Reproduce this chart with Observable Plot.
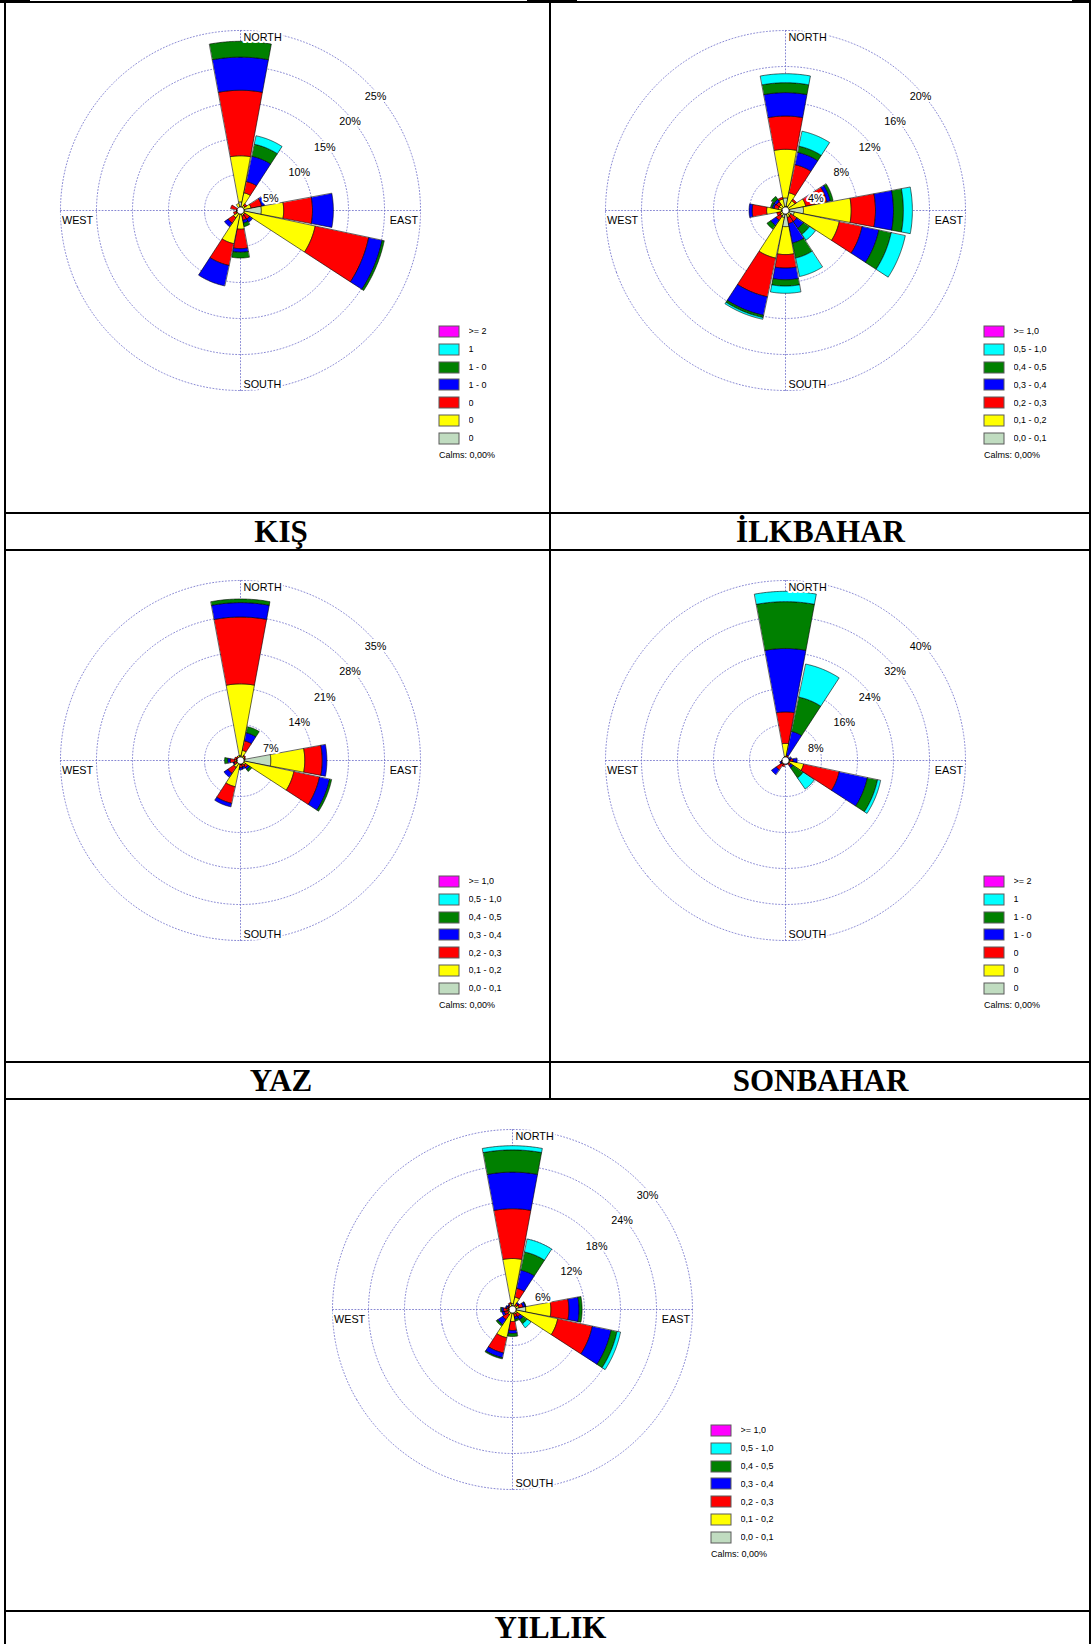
<!DOCTYPE html>
<html>
<head>
<meta charset="utf-8">
<script src="https://cdn.jsdelivr.net/npm/d3@7"></script>
<script src="https://cdn.jsdelivr.net/npm/@observablehq/plot@0.6"></script>
<style>
  body { margin: 0; background: #fff; }
  #page { position: relative; width: 1091px; height: 1644px; overflow: hidden; background: #fff; }
  .hl { position: absolute; height: 2px; background: #000; }
  .vl { position: absolute; width: 2px; background: #000; }
  .cap { position: absolute; height: 33px; line-height: 33px; text-align: center;
         font: bold 31px "Liberation Serif", "Times New Roman", serif; color: #000; }
  .calms { position: absolute; font: 9px "Liberation Sans", Arial, sans-serif; color: #000; white-space: nowrap; }
  .wr-swatches { font: 9px "Liberation Sans", Arial, sans-serif !important; margin: 0 !important; color: #000 !important; }
  .wr-swatch { height: 17.8px !important; padding-bottom: 0 !important; }
  .wr-swatch > svg { margin-right: 9.5px !important; }
  .wr-swatch > svg rect { stroke: #5a5a5a; stroke-width: 1px; }
</style>
</head>
<body>
<div id="page"></div>
<script>
// Compass sectors, clockwise from north
const directions = ["N","NNE","NE","ENE","E","ESE","SE","SSE","S","SSW","SW","WSW","W","WNW","NW","NNW"];

// Speed classes, lowest first
const binColors = ["#c0dcc0", "#ffff00", "#ff0000", "#0000ff", "#008000", "#00ffff", "#ff00ff"];
const speedLabels = ["0,0 - 0,1", "0,1 - 0,2", "0,2 - 0,3", "0,3 - 0,4", "0,4 - 0,5", "0,5 - 1,0", ">= 1,0"];
const roundedLabels = ["0", "0", "0", "1 - 0", "1 - 0", "1", ">= 2"];

// Frequency (%) per sector, one column per speed class (lowest first)
const kisFreq = [
  [1.2, 6.4, 9.1, 4.6, 2.2, 0, 0],
  [0.3, 2.2, 1.6, 3.6, 1.7, 1.2, 0],
  [0.2, 0.6, 0.3, 0, 0, 0, 0],
  [0.3, 1.2, 1.5, 0.4, 0, 0, 0],
  [2.9, 3.1, 4.0, 2.9, 0, 0, 0],
  [0.3, 10.3, 7.6, 1.9, 0.3, 0, 0],
  [0.2, 0.5, 0.8, 0.5, 0, 0, 0],
  [0.2, 0.6, 0.6, 0.4, 0.5, 0, 0],
  [0.3, 2.3, 2.7, 0.5, 0.8, 0, 0],
  [0.3, 4.4, 3.1, 2.9, 0, 0, 0],
  [0.2, 1.0, 0.9, 0.6, 0, 0, 0],
  [0.1, 0.5, 0.4, 0, 0, 0, 0],
  [0.1, 0.3, 0.1, 0, 0, 0, 0],
  [0.1, 0.4, 0.9, 0, 0, 0, 0],
  [0.1, 0.3, 0, 0, 0, 0, 0],
  [0.3, 0.7, 0, 0, 0, 0, 0]
];
const ilkbaharFreq = [
  [1.4, 5.4, 3.7, 2.6, 1.1, 1.0, 0],
  [0.5, 1.5, 3.2, 1.4, 0.7, 1.7, 0],
  [0.3, 1.0, 0.2, 0, 0, 0, 0],
  [0.3, 2.0, 2.4, 0.4, 0.3, 0, 0],
  [2.0, 5.3, 2.7, 2.0, 1.1, 1.0, 0],
  [1.0, 5.1, 2.6, 1.9, 1.4, 1.6, 0],
  [0.3, 0.4, 0.8, 0.9, 0.8, 0.8, 0],
  [0.3, 0.5, 0.7, 2.2, 1.7, 2.1, 0],
  [1.8, 3.1, 1.5, 1.3, 0.7, 0.8, 0],
  [0.8, 4.6, 4.4, 2.1, 0.25, 0.2, 0],
  [0.2, 0.5, 0.6, 0.7, 0.5, 0, 0],
  [0.1, 0.5, 0.4, 0, 0, 0, 0],
  [0.3, 1.8, 1.6, 0.35, 0, 0, 0],
  [0.1, 0.7, 0.5, 0.2, 0.2, 0, 0],
  [0.2, 0.6, 0.4, 0.3, 0.4, 0, 0],
  [0.3, 1.0, 0.2, 0, 0, 0, 0]
];
const yazFreq = [
  [1.0, 13.9, 13.0, 2.8, 0.7, 0, 0],
  [0.3, 1.7, 1.9, 1.6, 1.2, 0, 0],
  [0.3, 0.7, 0.2, 0, 0, 0, 0],
  [0.3, 0.5, 0.2, 0, 0, 0, 0],
  [5.9, 6.6, 3.4, 0.9, 0, 0, 0],
  [0.5, 10.1, 5.1, 2.0, 0.4, 0, 0],
  [0.3, 0.8, 0.6, 0.4, 0.5, 0, 0],
  [0.2, 0.6, 0.5, 0.4, 0, 0, 0],
  [0.2, 0.6, 0.6, 0.4, 0, 0, 0],
  [0.3, 4.9, 3.3, 0.7, 0, 0, 0],
  [0.3, 1.3, 1.4, 0.9, 0, 0, 0],
  [0.2, 0.6, 0.5, 0.2, 0, 0, 0],
  [0.3, 0.8, 0.9, 0.5, 0.6, 0, 0],
  [0.2, 0.6, 0.4, 0, 0, 0, 0],
  [0.2, 0.5, 0.3, 0, 0, 0, 0],
  [0.2, 0.8, 0, 0, 0, 0, 0]
];
const sonbaharFreq = [
  [0.5, 3.3, 7.0, 14.1, 10.4, 2.3, 0],
  [0.2, 0.4, 0.6, 5.4, 7.8, 7.5, 0],
  [0.1, 0.3, 0.2, 0.3, 0, 0, 0],
  [0.1, 0.4, 0.3, 0.6, 0, 0, 0],
  [0.2, 0.8, 0.7, 0.9, 0, 0, 0],
  [0.5, 3.6, 8.1, 6.4, 2.3, 0.7, 0],
  [0.3, 0.6, 0.5, 0.6, 2.7, 3.0, 0],
  [0.1, 0.3, 0.3, 0.2, 0, 0, 0],
  [0.1, 0.3, 0.2, 0, 0, 0, 0],
  [0.1, 0.5, 0.8, 0, 0, 0, 0],
  [0.3, 0.7, 1.5, 1.3, 0, 0, 0],
  [0.1, 0.3, 0.6, 0.3, 0, 0, 0],
  [0.1, 0.2, 0.3, 0, 0, 0, 0],
  [0.1, 0.2, 0.1, 0, 0, 0, 0],
  [0.1, 0.2, 0, 0, 0, 0, 0],
  [0.2, 0.6, 0, 0, 0, 0, 0]
];
const yillikFreq = [
  [1.0, 7.5, 8.3, 6.1, 3.7, 0.7, 0],
  [0.4, 1.7, 1.5, 3.1, 3.1, 2.2, 0],
  [0.2, 0.6, 0.4, 0.2, 0, 0, 0],
  [0.3, 0.8, 0.7, 0.4, 0.1, 0, 0],
  [2.2, 4.2, 3.0, 1.7, 0.5, 0, 0],
  [0.5, 7.2, 5.9, 3.2, 1.0, 0.6, 0],
  [0.3, 0.6, 0.6, 0.6, 0.8, 0.8, 0],
  [0.2, 0.6, 0.5, 0.4, 0.3, 0, 0],
  [0.5, 1.5, 1.5, 0.5, 0.5, 0, 0],
  [0.4, 4.4, 2.6, 0.8, 0.2, 0, 0],
  [0.3, 0.7, 1.0, 1.0, 0.3, 0, 0],
  [0.2, 0.6, 0.6, 0.4, 0, 0, 0],
  [0.3, 0.6, 0.6, 0.3, 0.2, 0, 0],
  [0.2, 0.5, 0.3, 0.2, 0, 0, 0],
  [0.2, 0.4, 0.2, 0.2, 0, 0, 0],
  [0.3, 0.7, 0.2, 0, 0, 0, 0]
];

// Ring values (%) of each rose
const kisRings = [5, 10, 15, 20, 25];
const ilkbaharRings = [4, 8, 12, 16, 20];
const yazRings = [7, 14, 21, 28, 35];
const sonbaharRings = [8, 16, 24, 32, 40];
const yillikRings = [6, 12, 18, 24, 30];

const titles = ["KIŞ", "İLKBAHAR", "YAZ", "SONBAHAR", "YILLIK"];
const calmsText = "Calms: 0,00%";

// Layout of the five panels on the page
const panels = [
  {title: titles[0], freq: kisFreq, rings: kisRings, labels: roundedLabels, cx: 240, cy: 210},
  {title: titles[1], freq: ilkbaharFreq, rings: ilkbaharRings, labels: speedLabels, cx: 785, cy: 210},
  {title: titles[2], freq: yazFreq, rings: yazRings, labels: speedLabels, cx: 240, cy: 760},
  {title: titles[3], freq: sonbaharFreq, rings: sonbaharRings, labels: roundedLabels, cx: 785, cy: 760},
  {title: titles[4], freq: yillikFreq, rings: yillikRings, labels: speedLabels, cx: 512, cy: 1309}
];

const page = document.getElementById("page");

function addBox(cls, left, top, w, h) {
  const d = document.createElement("div");
  d.className = cls;
  d.style.left = left + "px"; d.style.top = top + "px";
  if (w != null) d.style.width = w + "px";
  if (h != null) d.style.height = h + "px";
  page.appendChild(d);
  return d;
}

// Table rules
addBox("hl", 0, 1, 1091, 2);
addBox("hl", 0, 0, 30, 3);
addBox("hl", 527, 0, 50, 3);
addBox("hl", 1072, 0, 19, 3);
addBox("vl", 4, 1, null, 1643);
addBox("vl", 1089, 1, null, 1643);
addBox("vl", 549, 1, null, 1098);
for (const y of [512, 549, 1061, 1098, 1610]) addBox("hl", 4, y, 1087, 2);

// Captions
const capCells = [[10, 514, 542], [552, 514, 537], [10, 1063, 542], [552, 1063, 537], [10, 1610, 1081]];
capCells.forEach(([x, y, w], i) => {
  const c = addBox("cap", x, y, w, null);
  c.textContent = titles[i];
});

// bearing (deg clockwise from north) -> longitude on the pole-centred projection
const lon = (b) => 180 - b;
const HALF = 10.5; // half angular width of a petal

function wedge(bearing, r0, r1) {
  const outer = [], inner = [];
  for (let a = -HALF; a <= HALF + 1e-9; a += 0.5) {
    outer.push([lon(bearing + a), 90 - r1]);
    inner.push([lon(bearing + a), 90 - r0]);
  }
  const ring = outer.concat(inner.reverse());
  ring.push(ring[0]);
  let g = {type: "Polygon", coordinates: [ring]};
  if (d3.geoArea(g) > 2 * Math.PI) g = {type: "Polygon", coordinates: [ring.slice().reverse()]};
  return g;
}

function rosePlot(freq, rings) {
  const maxRing = rings[rings.length - 1];
  const base = maxRing * 3.5 / 180; // calm circle at the centre
  const petals = [];
  freq.forEach((row, i) => {
    const bearing = i * 22.5;
    let cum = 0;
    row.forEach((w, bin) => {
      if (!(w > 0)) return;
      const r0 = Math.max(cum, base), r1 = cum + w;
      cum = r1;
      if (r1 <= r0) return;
      petals.push({type: "Feature", properties: {dir: directions[i], bin}, geometry: wedge(bearing, r0, r1)});
    });
  });
  const edge = 90 - maxRing;
  const gridStyle = {stroke: "#6a6ac8", strokeWidth: 0.8, strokeDasharray: "1,2.2"};
  const labelStyle = {fill: "#000", stroke: "white", strokeWidth: 4, paintOrder: "stroke", fontSize: 10.8};
  return Plot.plot({
    width: 400, height: 400, margin: 0,
    projection: {type: "azimuthal-equidistant", rotate: [0, -90], inset: 20,
                 domain: d3.geoCircle().center([0, 90]).radius(maxRing)()},
    color: {type: "identity"},
    style: {background: "transparent", overflow: "visible", fontFamily: "Liberation Sans, Arial, sans-serif"},
    marks: [
      Plot.geo(rings.map((v) => d3.geoCircle().center([0, 90]).radius(v).precision(0.5)()), {...gridStyle, fill: "none"}),
      Plot.geo([0, 90, 180, 270].map((b) => ({type: "LineString", coordinates: [[lon(b), edge], [lon(b), 89.9999]]})), gridStyle),
      Plot.geo(petals, {fill: (d) => binColors[d.properties.bin], stroke: "#000", strokeWidth: 0.6}),
      Plot.geo(d3.geoCircle().center([0, 90]).radius(base).precision(1)(), {fill: "white", stroke: "#000", strokeWidth: 0.8}),
      Plot.text(rings, {x: () => lon(45), y: (v) => 90 - v, text: (v) => v + "%", textAnchor: "start", dx: -3, dy: 13, ...labelStyle}),
      Plot.text(["NORTH"], {x: () => lon(0), y: () => edge, text: (d) => d, textAnchor: "start", dx: 3, dy: 7, ...labelStyle}),
      Plot.text(["SOUTH"], {x: () => lon(180), y: () => edge, text: (d) => d, textAnchor: "start", dx: 3, dy: -6, ...labelStyle}),
      Plot.text(["EAST"], {x: () => lon(90), y: () => edge, text: (d) => d, textAnchor: "end", dx: -2.5, dy: 10, ...labelStyle}),
      Plot.text(["WEST"], {x: () => lon(270), y: () => edge, text: (d) => d, textAnchor: "start", dx: 1.5, dy: 10, ...labelStyle})
    ]
  });
}

panels.forEach((p) => {
  const svg = rosePlot(p.freq, p.rings);
  const holder = addBox("", p.cx - 200, p.cy - 200, 400, 400);
  holder.style.position = "absolute";
  holder.appendChild(svg);

  // legend, highest speed class first
  const keys = d3.range(binColors.length).reverse();
  const legend = Plot.legend({
    color: {type: "ordinal", domain: keys, range: keys.map((k) => binColors[k])},
    legend: "swatches", columns: 1, swatchWidth: 20, swatchHeight: 11,
    tickFormat: (k) => p.labels[k], className: "wr"
  });
  const lg = addBox("", p.cx + 199, p.cy + 112.6, 110, null);
  lg.style.position = "absolute";
  lg.appendChild(legend);

  const calms = addBox("calms", p.cx + 199, p.cy + 240, null, null);
  calms.textContent = calmsText;
});
</script>
</body>
</html>
